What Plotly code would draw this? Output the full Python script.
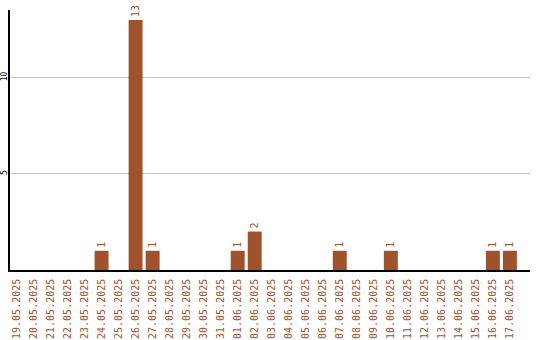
import plotly.graph_objects as go

dates = ["19.05.2025","20.05.2025","21.05.2025","22.05.2025","23.05.2025","24.05.2025",
         "25.05.2025","26.05.2025","27.05.2025","28.05.2025","29.05.2025","30.05.2025",
         "31.05.2025","01.06.2025","02.06.2025","03.06.2025","04.06.2025","05.06.2025",
         "06.06.2025","07.06.2025","08.06.2025","09.06.2025","10.06.2025","11.06.2025",
         "12.06.2025","13.06.2025","14.06.2025","15.06.2025","16.06.2025","17.06.2025"]
values = [0,0,0,0,0,1,0,13,1,0,0,0,0,1,2,0,0,0,0,1,0,0,1,0,0,0,0,0,1,1]
y_ticks = [5, 10]

idx = list(range(len(dates)))
labels = [str(v) if v else "" for v in values]
color = "#A0522D"
mono = "DejaVu Sans Mono"

fig = go.Figure(go.Bar(
    x=idx, y=values, text=labels, textposition="outside", textangle=-90,
    textfont=dict(family=mono, size=10, color=color),
    marker=dict(color=color, line=dict(width=0)), width=0.82, cliponaxis=False,
))
fig.update_layout(
    width=540, height=340, margin=dict(l=10, r=10, t=10, b=70),
    paper_bgcolor="white", plot_bgcolor="white", showlegend=False,
    uniformtext=dict(mode=False),
)
fig.update_xaxes(
    range=[-0.382, 30.18], tickvals=idx, ticktext=dates, tickangle=-90,
    tickfont=dict(family=mono, size=10, color=color), showgrid=False,
    showline=True, linecolor="black", linewidth=1.5, ticks="outside", ticklen=3,
    tickcolor="white", zeroline=False, automargin=False,
)
fig.update_yaxes(
    range=[0, 13.52], tickvals=y_ticks, ticktext=[str(t) for t in y_ticks], tickangle=-90,
    tickfont=dict(family=mono, size=8, color="black"), showgrid=True, gridcolor="#c8c8c8",
    gridwidth=1, showline=True, linecolor="black", linewidth=1.5, zeroline=False,
    ticks="", automargin=False, ticklabelstandoff=-2,
)
fig.write_html("out.html")
